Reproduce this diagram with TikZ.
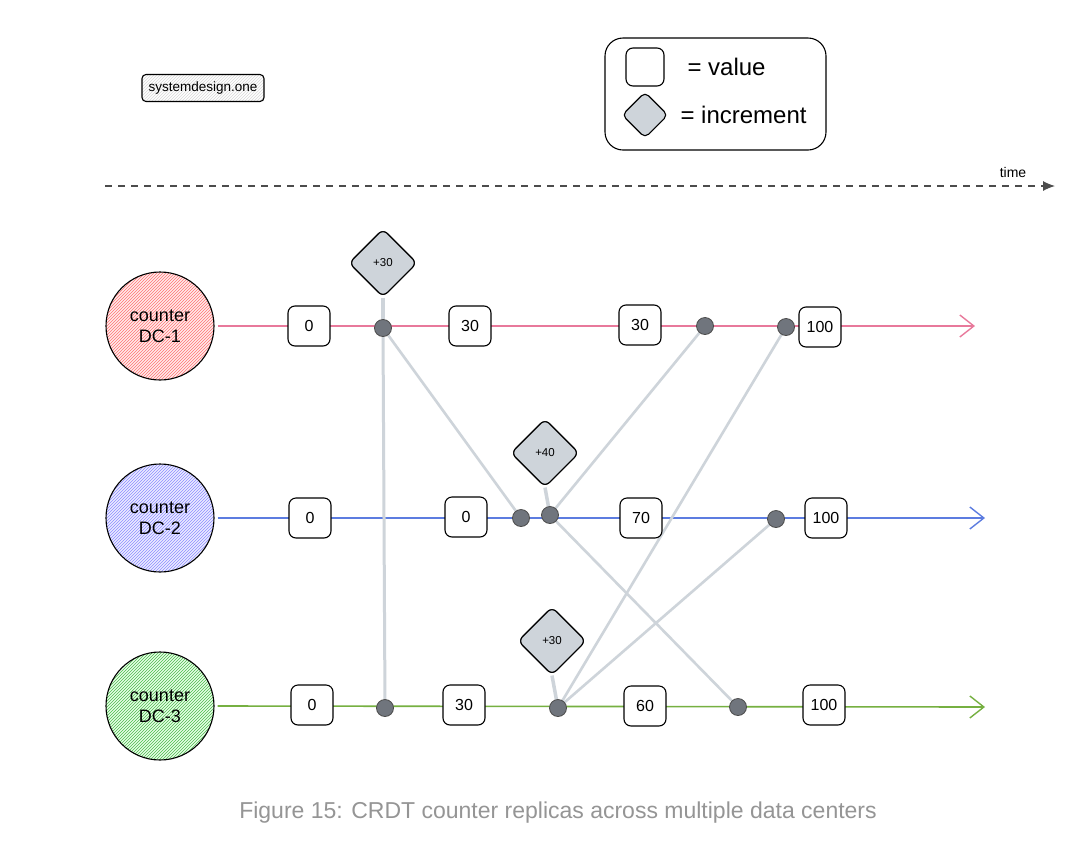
\documentclass[tikz,border=0pt]{standalone}
\usepackage{fontspec}
\setmainfont{Liberation Sans}
\usetikzlibrary{shapes.geometric,arrows.meta,patterns}
\definecolor{pinkl}{HTML}{E8799B}
\definecolor{bluel}{HTML}{5C7CE0}
\definecolor{greenl}{HTML}{76B041}
\definecolor{greyl}{HTML}{CED4DA}
\definecolor{dotc}{HTML}{70757D}
\definecolor{capc}{HTML}{959595}
\tikzset{
  valbox/.style={draw=black, line width=1.1pt, fill=white, rounded corners=7pt, minimum width=42pt, minimum height=40pt, font=\fontsize{16}{18}\selectfont, inner sep=0pt},
  incdia/.style={diamond, draw=black, line width=1.1pt, fill=greyl, rounded corners=6pt, minimum width=68pt, minimum height=68pt, inner sep=0pt, font=\fontsize{11.5}{13}\selectfont},
  evdot/.style={circle, draw=black!70, line width=0.8pt, fill=dotc, minimum size=17pt, inner sep=0pt},
  dcnode/.style={circle, draw=black, line width=1.1pt, minimum size=108pt, align=center, inner sep=0pt, font=\fontsize{18}{21}\selectfont},
  repl/.style={draw=greyl, line width=2.6pt},
  rowline/.style={line width=1.6pt}
}
\begin{document}
\begin{tikzpicture}[x=1pt,y=-1pt]
\useasboundingbox[fill=white] (0,0) rectangle (1088,847);
% brand box
\node[draw=black, line width=1.1pt, rounded corners=4pt, minimum width=122pt, minimum height=27pt, inner sep=0pt,
  preaction={fill=white}, pattern=north east lines, pattern color=black!15, font=\fontsize{13.5}{15}\selectfont] (brand) at (203,88) {systemdesign.one};
% legend
\node[draw=black, line width=1.1pt, rounded corners=18pt, minimum width=221pt, minimum height=112pt] (legend) at (715.5,94) {};
\node[draw=black, line width=1.1pt, rounded corners=7pt, minimum size=38pt, inner sep=0pt] (lsq) at (645,67) {};
\node[anchor=west, font=\fontsize{24}{28}\selectfont] (lval) at (684,67) {= value};
\node[diamond, draw=black, line width=1.1pt, fill=greyl, rounded corners=5pt, minimum size=46pt, inner sep=0pt] (ldia) at (645,115) {};
\node[anchor=west, font=\fontsize{24}{28}\selectfont] (linc) at (677,115) {= increment};
% time axis
\coordinate (t0) at (105,186);
\coordinate (t1) at (1055,186);
\draw[black!70, line width=1.1pt, dash pattern=on 7pt off 6pt, -{Latex[length=12pt,width=10pt]}] (t0) -- (t1);
\node[font=\fontsize{14}{16}\selectfont] (tlab) at (1013,172) {time};
% DC circles
\node[dcnode, preaction={fill=red!8}, pattern=north east lines, pattern color=red!55] (dc1) at (160,326) {counter\\DC-1};
\node[dcnode, preaction={fill=blue!8}, pattern=north east lines, pattern color=blue!45] (dc2) at (160,518) {counter\\DC-2};
\node[dcnode, preaction={fill=green!10}, pattern=north east lines, pattern color=green!60!black!70] (dc3) at (160,706) {counter\\DC-3};
\coordinate (e1) at (975,326);
\coordinate (e2) at (985,518);
\coordinate (e3) at (985,707);
\draw[rowline, pinkl, -{Straight Barb[length=14pt,width=22pt,line width=1.4pt]}] (dc1.east) ++(3,0) -- (e1);
\draw[rowline, bluel, -{Straight Barb[length=14pt,width=22pt,line width=1.4pt]}] (dc2.east) ++(3,0) -- (e2);
\draw[rowline, greenl, -{Straight Barb[length=14pt,width=22pt,line width=1.4pt]}] (dc3.east) ++(3,0) -- (e3);
% event dots coordinates
\coordinate (p11) at (383,328);
\coordinate (p12) at (705,326);
\coordinate (p13) at (786,327);
\coordinate (p21) at (521,518);
\coordinate (p22) at (550,515);
\coordinate (p23) at (776,519);
\coordinate (p31) at (385,708);
\coordinate (p32) at (558,708);
\coordinate (p33) at (738,707);
% diamonds
\node[incdia] (i1) at (383,263) {+30};
\node[incdia] (i2) at (545,453) {+40};
\node[incdia] (i3) at (552,641) {+30};
% replication lines
\draw[repl, line width=3.5pt] (i1.south) -- (p11);
\draw[repl, line width=3pt] (p11) -- (p31);
\draw[repl] (p11) -- (p21);
\draw[repl, line width=3.5pt] (i2.south) -- (p22);
\draw[repl] (p22) -- (p12);
\draw[repl] (p22) -- (p33);
\draw[repl, line width=3.5pt] (i3.south) -- (p32);
\draw[repl] (p32) -- (p13);
\draw[repl] (p32) -- (p23);
% redraw diamonds on top
\node[incdia] at (i1) {+30};
\node[incdia] at (i2) {+40};
\node[incdia] at (i3) {+30};
% value boxes
\node[valbox] (v11) at (309,326) {0};
\node[valbox] (v12) at (470,326) {30};
\node[valbox] (v13) at (640,325) {30};
\node[valbox] (v14) at (820,327) {100};
\node[valbox] (v21) at (310,518) {0};
\node[valbox] (v22) at (466,517) {0};
\node[valbox] (v23) at (641,518) {70};
\node[valbox] (v24) at (826,518) {100};
\node[valbox] (v31) at (312,705) {0};
\node[valbox] (v32) at (464,705) {30};
\node[valbox] (v33) at (645,706) {60};
\node[valbox] (v34) at (824,705) {100};
% dots
\foreach \p in {p11,p12,p13,p21,p22,p23,p31,p32,p33}
  \node[evdot] at (\p) {};
% caption
\node[text=capc, font=\fontsize{23}{27}\selectfont] (cap) at (558,813) {Figure 15: CRDT counter replicas across multiple data centers};
\end{tikzpicture}
\end{document}
